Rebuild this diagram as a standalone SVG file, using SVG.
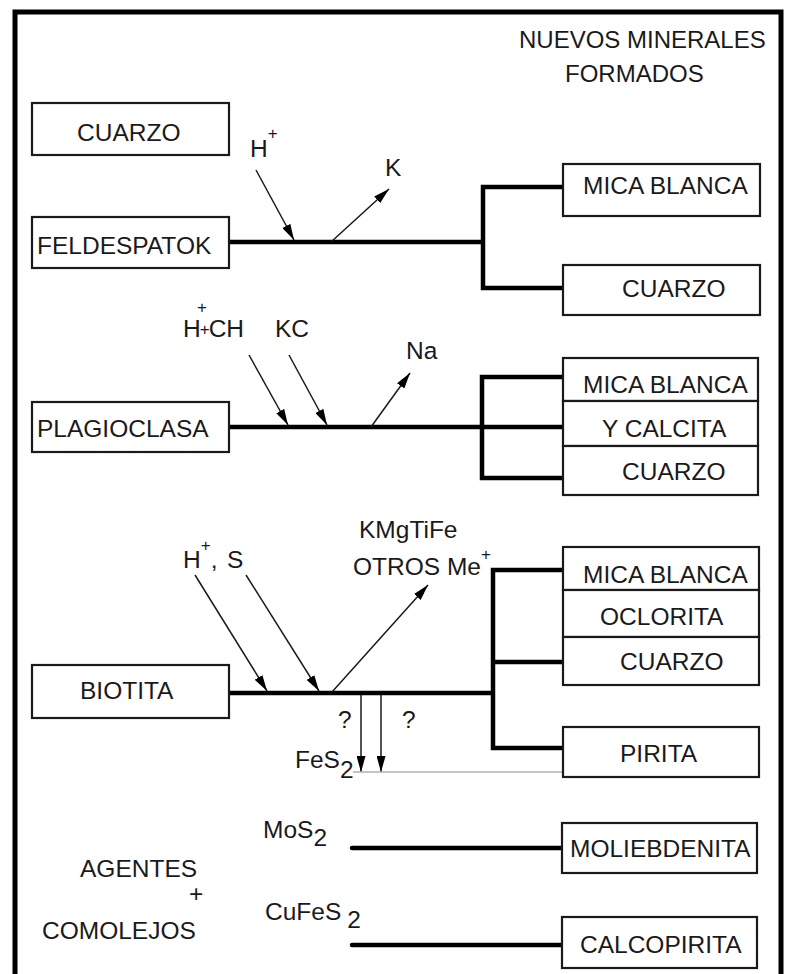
<svg xmlns="http://www.w3.org/2000/svg" width="786" height="974" viewBox="0 0 786 974">
<style>
text{font-family:"Liberation Sans",Arial,sans-serif;font-size:24.5px;fill:#1a1a1a}
.title{font-size:24px}
.box{fill:#fff;stroke:#1a1a1a;stroke-width:2.2}
.thick{fill:none;stroke:#000;stroke-width:4.5;stroke-linejoin:miter}
.thin{fill:none;stroke:#1a1a1a;stroke-width:1.5}
.sup{font-size:17px}
</style>
<defs>
<marker id="ah" markerUnits="userSpaceOnUse" markerWidth="16" markerHeight="9" viewBox="0 0 16 9" refX="16" refY="4.5" orient="auto">
<path d="M0,0 L16,4.5 L0,9 z" fill="#000"/>
</marker>
</defs>
<rect width="786" height="974" fill="#fff"/>
<path d="M15,990 V12 H781 V990" fill="none" stroke="#000" stroke-width="5"/>
<g id="title">
<text class="title" x="519" y="48">NUEVOS MINERALES</text>
<text class="title" x="565" y="82">FORMADOS</text>
</g>
<g id="connectors">
<path class="thick" d="M229,242 H483 M563,187 H483 V288 H563"/>
<path class="thick" d="M229,427 H563 M563,377 H482 V478 H563"/>
<path class="thick" d="M229,693 H493 M563,570 H493 V748 H563 M493,662 H563"/>
<path class="thick" d="M352,848 H563" stroke-linecap="round"/>
<path class="thick" d="M352,945 H563" stroke-linecap="round"/>
<line class="thin" x1="256" y1="170" x2="294" y2="240" marker-end="url(#ah)"/>
<line class="thin" x1="331" y1="242" x2="389" y2="189" marker-end="url(#ah)"/>
<line class="thin" x1="249" y1="355" x2="288" y2="425" marker-end="url(#ah)"/>
<line class="thin" x1="289" y1="355" x2="327" y2="425" marker-end="url(#ah)"/>
<line class="thin" x1="371" y1="427" x2="410" y2="373" marker-end="url(#ah)"/>
<line class="thin" x1="195" y1="575" x2="267" y2="691" marker-end="url(#ah)"/>
<line class="thin" x1="246" y1="575" x2="319" y2="691" marker-end="url(#ah)"/>
<line class="thin" x1="332" y1="692" x2="428" y2="585" marker-end="url(#ah)"/>
<line class="thin" x1="361" y1="695" x2="361" y2="772" marker-end="url(#ah)"/>
<line class="thin" x1="381" y1="695" x2="381" y2="772" marker-end="url(#ah)"/>
<line x1="353" y1="772" x2="565" y2="772" stroke="#b0b0b0" stroke-width="1.5"/>
</g>
<g id="labels">
<text x="250" y="157">H<tspan class="sup" dy="-18">+</tspan></text>
<text x="385" y="176">K</text>
<text x="183" y="337">H<tspan font-size="17" dx="-1" dy="-2">+</tspan><tspan dx="-1" dy="2">CH</tspan></text>
<text class="sup" x="197" y="313">+</text>
<text x="275" y="337">KC</text>
<text x="406" y="359">Na</text>
<text x="183" y="568">H<tspan class="sup" dy="-17">+</tspan><tspan dy="17">, </tspan><tspan x="227">S</tspan></text>
<text x="359" y="538">KMgTiFe</text>
<text x="353" y="575">OTROS Me<tspan class="sup" dy="-15">+</tspan></text>
<text x="338" y="728">?</text>
<text x="402" y="728">?</text>
<text x="295" y="768">FeS<tspan dy="10">2</tspan></text>
<text x="263" y="838">MoS<tspan dy="8">2</tspan></text>
<text x="265" y="920">CuFeS<tspan dx="6" dy="8">2</tspan></text>
<text x="80" y="877">AGENTES</text>
<text x="189" y="902">+</text>
<text x="42" y="939">COMOLEJOS</text>
</g>
<g id="cuarzo-origen"><rect class="box" x="32" y="103" width="197" height="52"/><text x="77" y="141">CUARZO</text></g>
<g id="feldespatok"><rect class="box" x="32" y="217" width="197" height="51"/><text x="37" y="254">FELDESPATOK</text></g>
<g id="plagioclasa"><rect class="box" x="32" y="402" width="197" height="50"/><text x="37" y="437">PLAGIOCLASA</text></g>
<g id="biotita"><rect class="box" x="32" y="665" width="197" height="53"/><text x="80" y="699">BIOTITA</text></g>
<g id="mica-blanca-1"><rect class="box" x="563" y="164" width="197" height="52"/><text x="583" y="194">MICA BLANCA</text></g>
<g id="cuarzo-1"><rect class="box" x="563" y="265" width="197" height="50"/><text x="622" y="297">CUARZO</text></g>
<g id="mica-blanca-2"><rect class="box" x="563" y="358" width="195" height="43"/><text x="583" y="393">MICA BLANCA</text></g>
<g id="y-calcita"><rect class="box" x="563" y="401" width="195" height="45"/><text x="602" y="437">Y CALCITA</text></g>
<g id="cuarzo-2"><rect class="box" x="563" y="446" width="195" height="49"/><text x="622" y="480">CUARZO</text></g>
<g id="mica-blanca-3"><rect class="box" x="563" y="547" width="196" height="43"/><text x="583" y="583">MICA BLANCA</text></g>
<g id="oclorita"><rect class="box" x="563" y="590" width="196" height="47"/><text x="600" y="625">OCLORITA</text></g>
<g id="cuarzo-3"><rect class="box" x="563" y="637" width="196" height="48"/><text x="620" y="670">CUARZO</text></g>
<g id="pirita"><rect class="box" x="563" y="727" width="196" height="50"/><text x="620" y="762">PIRITA</text></g>
<g id="moliebdenita"><rect class="box" x="562" y="823" width="195" height="50"/><text x="570" y="857">MOLIEBDENITA</text></g>
<g id="calcopirita"><rect class="box" x="562" y="917" width="195" height="51"/><text x="580" y="953">CALCOPIRITA</text></g>
</svg>
